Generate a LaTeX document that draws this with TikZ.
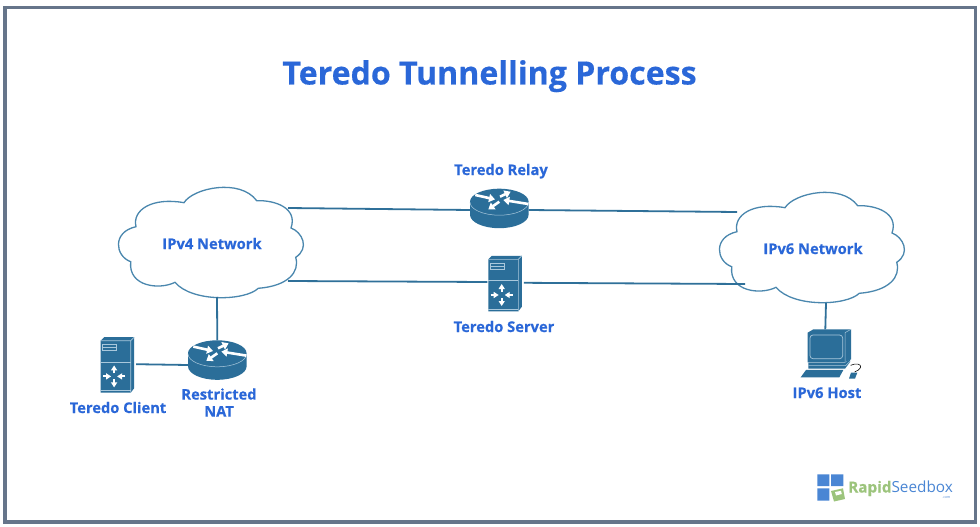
\documentclass[tikz,border=0pt]{standalone}
\usepackage{fontspec}
\setmainfont{Open Sans}[BoldFeatures={FakeBold=0.35}]
\usetikzlibrary{arrows.meta}
\definecolor{iconblue}{HTML}{2B6E99}
\definecolor{cloudline}{HTML}{4A87AE}
\definecolor{wireblue}{HTML}{2F7099}
\definecolor{labelblue}{HTML}{2A67D8}
\definecolor{framegrey}{HTML}{66758A}
\definecolor{logoblue}{HTML}{4A86D4}
\definecolor{logogreen}{HTML}{9CC47C}
\definecolor{iconedge}{HTML}{A9C8DC}
\tikzset{
  x=1pt,y=-1pt,
  wire/.style={draw=wireblue,line width=1.8pt},
  label/.style={font=\fontsize{14.7}{17}\selectfont\bfseries,text=labelblue,align=center,inner sep=0pt},
  whitearrow/.style={draw=white,line width=2pt,-{Triangle[length=5pt,width=6pt]}},
  routerarrow/.style={draw=white,line width=2.6pt,-{Triangle[length=6pt,width=8pt]}},
  cloudicon/.pic={
    \draw[draw=cloudline,line width=1.3pt,fill=white]
      (74,22.7) .. controls (83,8) and (130,-2) .. (146.7,20.7)
      .. controls (165,20) and (188,28) .. (181,48)
      .. controls (192,52) and (200,68) .. (185.7,77.3)
      .. controls (190,92) and (178,106) .. (148.3,108.3)
      .. controls (135,121) and (82,122.5) .. (65,102.3)
      .. controls (50,110) and (18,107) .. (20.7,81.7)
      .. controls (5,76) and (2,52) .. (26,46.7)
      .. controls (22,30) and (42,17) .. (74,22.7) -- cycle;
    \coordinate (-ne) at (178,28);
    \coordinate (-se) at (178,101);
    \coordinate (-s) at (107,117);
    \coordinate (-nw) at (26,27);
    \coordinate (-sw) at (34,99);
    \coordinate (-s6) at (115,118);
  },
  routericon/.pic={
    \fill[iconblue] (-29.3,0) -- (-29.3,13) arc[start angle=180,end angle=0,x radius=29.3,y radius=13.5]
      -- (29.3,0) arc[start angle=0,end angle=-180,x radius=29.3,y radius=13] -- cycle;
    \draw[iconedge,line width=0.5pt] (-29.3,0.5) arc[start angle=180,end angle=0,x radius=29.3,y radius=13];
    \draw[routerarrow] (-24,-6.7) -- (-4.3,-2.3);
    \draw[routerarrow] (0,0) -- (-11,7.7);
    \draw[routerarrow] (29,2.3) -- (4,-1.7);
    \draw[routerarrow] (0.7,-5) -- (11.3,-10);
    \coordinate (-n) at (0,-13);
    \coordinate (-w) at (-29.3,8.3);
    \coordinate (-e) at (29.3,8.3);
    \coordinate (-lw) at (-29.3,11.7);
  },
  servericon/.pic={
    \fill[iconblue] (0,0) -- (3.5,-3.5) -- (33.5,-3.5) -- (33.5,47.5) -- (30,52) -- (0,52) -- cycle;
    \draw[iconedge,line width=0.6pt] (0,0) -- (30,0) -- (30,52) (30,0) -- (33.5,-3.5);
    \draw[iconedge,line width=0.8pt] (0,21.3) -- (30,21.3);
    \draw[iconedge,line width=0.5pt] (0,49.5) -- (30,49.5);
    \draw[iconedge,line width=0.6pt] (2,4) rectangle (16,10) (2,7) -- (16,7);
    \begin{scope}[shift={(13.4,35.7)}]
      \draw[whitearrow] (0,-3) -- (0,-11);
      \draw[whitearrow] (0,3) -- (0,11);
      \draw[whitearrow] (-11,0) -- (-3,0);
      \draw[whitearrow] (11,0) -- (3,0);
    \end{scope}
    \coordinate (-w) at (-1,22.7);
    \coordinate (-e) at (35.5,23.5);
  },
  hosticon/.pic={
    \begin{scope}[x=0.3333pt,y=-0.3333pt]
      % monitor
      \fill[iconblue] (83,38) -- (100,28) -- (213,28) -- (213,118) -- (195,127) -- (83,127) -- cycle;
      \draw[iconedge,line width=0.5pt] (195,38) -- (213,28) (195,38) -- (195,127);
      \draw[iconedge,line width=0.7pt,rounded corners=3pt] (90,45) rectangle (188,116);
      % stand
      \fill[iconblue] (85,128) -- (195,128) -- (210,118) -- (210,126) -- (195,146) -- (85,146) -- cycle;
      \draw[iconedge,line width=0.5pt] (85,137) -- (197,137) -- (210,124);
      % keyboard and mouse
      \fill[iconblue] (78,150) -- (190,150) -- (178,172) -- (62,172) -- cycle;
      \fill[iconblue] (213,158) -- (232,158) -- (225,176) -- (207,176) -- cycle;
      \draw[black,line width=0.6pt] (212,136) .. controls (228,128) and (244,132) .. (242,142) .. controls (241,150) and (232,150) .. (224,156);
    \end{scope}
    \coordinate (-n) at (45.3,9.3);
  }
}
\begin{document}
\begin{tikzpicture}
  \useasboundingbox (0,0) rectangle (980,527);
  \fill[white] (0,0) rectangle (980,527);
  \draw[framegrey,line width=3.6pt] (5,7.5) rectangle (975.5,522);

  \node[font=\fontsize{32.1}{36}\selectfont\bfseries,text=labelblue,inner sep=0pt,anchor=base] (title) at (489.5,84.5) {Teredo Tunnelling Process};

  % clouds
  \pic (v4) at (110,180) {cloudicon};
  \pic (v6) at (711,185) {cloudicon};
  \node[label,anchor=base] (v4label) at (212,249) {IPv4 Network};
  \node[label,anchor=base] (v6label) at (813,254) {IPv6 Network};

  % network devices
  \pic (relay) at (499.3,201.7) {routericon};
  \pic (nat) at (217.3,353.3) {routericon};
  \pic (server) at (488.3,259.3) {servericon};
  \pic (client) at (100.7,340.7) {servericon};
  \pic (host) at (780,320) {hosticon};

  \node[label,anchor=base] (relaylabel) at (501,175) {Teredo Relay};
  \node[label,anchor=base] (serverlabel) at (504,332) {Teredo Server};
  \node[label,anchor=base] (clientlabel) at (118,413) {Teredo Client};
  \node[label] (natlabel) at (219,402.5) {Restricted\\NAT};
  \node[label,anchor=base] (hostlabel) at (827,398) {IPv6 Host};

  % links
  \draw[wire] (v4-ne) -- (relay-w);
  \draw[wire] (relay-e) -- (v6-nw);
  \draw[wire] (v4-se) -- (server-w);
  \draw[wire] (server-e) -- (v6-sw);
  \draw[wire] (v4-s) -- (nat-n);
  \draw[wire] (client-e) -- (nat-lw);
  \draw[wire] (v6-s6) -- (host-n);

  % brand mark
  \fill[logoblue] (817.3,474.3) rectangle (829.3,486)
                  (831,474.3) rectangle (843.3,486)
                  (817.3,488.3) rectangle (829.3,500.7);
  \fill[logogreen] (831,491) -- (843,488.3) -- (845,499) -- (834,501.5) -- cycle;
  \fill[white] (835,492) -- (841,490.8) -- (841.8,494) -- (836,495.5) -- cycle;
  \node[inner sep=0pt,anchor=base west,font=\fontsize{15.3}{18}\selectfont] (brand) at (848,492.5)
    {\textcolor{logogreen}{\textbf{Rapid}}\textcolor{logoblue}{Seedbox}};
  \node[inner sep=0pt,font=\fontsize{3.5}{4}\selectfont,text=logoblue] (brandcom) at (946.5,498) {.com};
\end{tikzpicture}
\end{document}
